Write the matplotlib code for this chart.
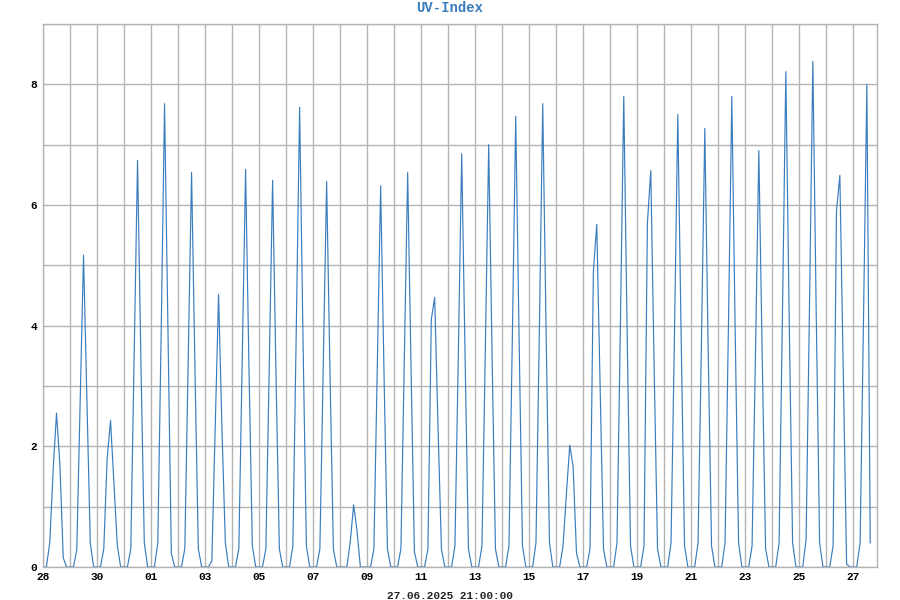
import numpy as np
import pandas as pd
import matplotlib
matplotlib.use("Agg")
import matplotlib.pyplot as plt
import matplotlib.dates as mdates

# UV index, sampled every 3 hours (00,03,...,21) for each day from 28.05.2025
uv_by_day = [
    [0, 0, 0.4, 1.6, 2.55, 1.7, 0.15, 0],    # 28
    [0, 0, 0.28, 2.7, 5.17, 2.8, 0.4, 0],    # 29
    [0, 0, 0.3, 1.8, 2.43, 1.4, 0.36, 0],    # 30
    [0, 0, 0.3, 3.5, 6.74, 3.4, 0.4, 0],     # 31
    [0, 0, 0.4, 3.9, 7.68, 3.9, 0.23, 0],    # 01
    [0, 0, 0.3, 3.4, 6.54, 3.3, 0.3, 0],     # 02
    [0, 0, 0.1, 2.3, 4.52, 2.3, 0.4, 0],     # 03
    [0, 0, 0.3, 3.4, 6.59, 3.3, 0.35, 0],    # 04
    [0, 0, 0.3, 3.3, 6.41, 3.2, 0.3, 0],     # 05
    [0, 0, 0.35, 3.9, 7.62, 3.8, 0.35, 0],   # 06
    [0, 0, 0.3, 3.3, 6.39, 3.2, 0.3, 0],     # 07
    [0, 0, 0, 0.42, 1.03, 0.6, 0, 0],        # 08
    [0, 0, 0.3, 3.3, 6.32, 3.2, 0.3, 0],     # 09
    [0, 0, 0.3, 3.4, 6.54, 3.3, 0.25, 0],    # 10
    [0, 0, 0.3, 4.1, 4.47, 2.3, 0.3, 0],     # 11
    [0, 0, 0.35, 3.5, 6.85, 3.5, 0.3, 0],    # 12
    [0, 0, 0.35, 3.6, 7.0, 3.5, 0.3, 0],     # 13
    [0, 0, 0.35, 3.8, 7.47, 3.8, 0.35, 0],   # 14
    [0, 0, 0.4, 3.9, 7.68, 3.9, 0.4, 0],     # 15
    [0, 0, 0.34, 1.2, 2.02, 1.66, 0.23, 0],  # 16
    [0, 0, 0.3, 4.9, 5.68, 3.0, 0.3, 0],     # 17
    [0, 0, 0.4, 4.0, 7.8, 3.9, 0.35, 0],     # 18
    [0, 0, 0.35, 5.7, 6.57, 3.3, 0.3, 0],    # 19
    [0, 0, 0.4, 3.8, 7.5, 3.8, 0.35, 0],     # 20
    [0, 0, 0.4, 3.7, 7.27, 3.6, 0.35, 0],    # 21
    [0, 0, 0.4, 4.0, 7.8, 3.9, 0.4, 0],      # 22
    [0, 0, 0.35, 3.5, 6.9, 3.5, 0.3, 0],     # 23
    [0, 0, 0.4, 4.2, 8.21, 4.1, 0.4, 0],     # 24
    [0, 0, 0.45, 4.3, 8.38, 4.2, 0.4, 0],    # 25
    [0, 0, 0.35, 5.9, 6.49, 3.3, 0.05, 0],   # 26
    [0, 0, 0.4, 4.1, 8.0, 0.4],              # 27
]
uv = [v for day in uv_by_day for v in day]
times = pd.date_range("2025-05-28 00:00", periods=len(uv), freq="3h")

x_start = pd.Timestamp("2025-05-28 00:00")
x_end = pd.Timestamp("2025-06-27 21:00")
title = "UV-Index"
stamp = "27.06.2025 21:00:00"

font = "Liberation Mono"
line_col = "#3a7dbd"
grid_col = "#b4b4b4"

fig = plt.figure(figsize=(9, 6), dpi=100)
ax = fig.add_axes([43 / 900, 1 - 567 / 600, 834 / 900, 543 / 600])

ax.plot(times, uv, color=line_col, lw=0.85)

ax.set_xlim(x_start, x_end)
ax.set_ylim(0, 9)

major_days = pd.date_range("2025-05-28", "2025-06-27", freq="2D")
minor_days = pd.date_range("2025-05-28", "2025-06-27", freq="1D")
ax.set_xticks(major_days)
ax.set_xticks(minor_days, minor=True)
ax.xaxis.set_major_formatter(mdates.DateFormatter("%d"))
ax.set_yticks([0, 2, 4, 6, 8])
ax.set_yticks(np.arange(0, 10, 1), minor=True)

ax.grid(True, which="both", color=grid_col, lw=1.0)
ax.set_axisbelow(True)
ax.tick_params(which="both", length=0)
ax.tick_params(axis="x", pad=3.5)
ax.tick_params(axis="y", pad=4)
for lab in ax.get_xticklabels() + ax.get_yticklabels():
    lab.set_fontfamily(font)
    lab.set_fontweight("bold")
    lab.set_fontsize(8)
for sp in ax.spines.values():
    sp.set_color(grid_col)
    sp.set_linewidth(1.0)

fig.text(0.5, 1 - 8 / 600, title, ha="center", va="center", family=font,
         fontweight="bold", fontsize=10, color=line_col)
fig.text(0.5, 1 - 596 / 600, stamp, ha="center", va="center", family=font,
         fontweight="bold", fontsize=8, color="#222222")

fig.savefig("out.png", dpi=100)
